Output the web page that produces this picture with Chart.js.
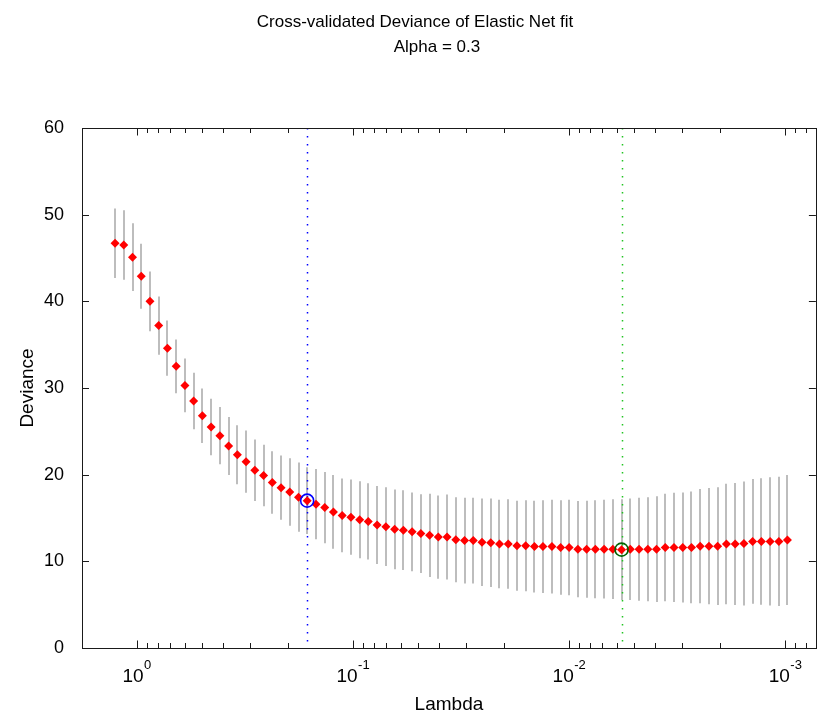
<!DOCTYPE html>
<html>
<head>
<meta charset="utf-8">
<title>Cross-validated Deviance of Elastic Net fit</title>
<script src="https://cdn.jsdelivr.net/npm/chart.js@4.4.1/dist/chart.umd.min.js"></script>
<style>
  html, body { margin: 0; padding: 0; background: #fff; }
</style>
</head>
<body>
<canvas id="cvPlot" width="824" height="720"></canvas>
<script>
// lambda values (x)
const lambdas = [
  1.2589, 1.1471, 1.0452, 0.95233, 0.86771, 0.79057, 0.72030, 0.65628, 0.59795, 0.54496,
  0.49637, 0.45225, 0.41205, 0.37543, 0.34206, 0.31165, 0.28395, 0.25871, 0.23572, 0.21477,
  0.19568, 0.17828, 0.16259, 0.14800, 0.13484, 0.12286, 0.11194, 0.10199, 0.092924, 0.084786,
  0.077138, 0.070281, 0.064034, 0.058342, 0.053156, 0.048431, 0.044126, 0.040204, 0.036630, 0.033374,
  0.030407, 0.027704, 0.025242, 0.022998, 0.020954, 0.019091, 0.017394, 0.015848, 0.014439, 0.013188,
  0.011986, 0.010921, 0.0099768, 0.0090900, 0.0082820, 0.0075458, 0.0068750, 0.0062639, 0.0057072, 0.0051998,
  0.0047376, 0.0043165, 0.0039328, 0.0035832, 0.0032647, 0.0029745, 0.0027101, 0.0024692, 0.0022497, 0.0020517,
  0.0018675, 0.0017015, 0.0015503, 0.0014125, 0.0012869, 0.0011725, 0.0010683, 0.00097474
];

// mean cross-validated deviance
const deviance = [
  46.7, 46.5, 45.1, 42.9, 40.0, 37.2, 34.6, 32.5, 30.3, 28.5,
  26.8, 25.5, 24.5, 23.3, 22.3, 21.5, 20.5, 19.9, 19.1, 18.5,
  18.0, 17.4, 17.0, 16.6, 16.2, 15.7, 15.3, 15.1, 14.8, 14.6,
  14.2, 14.0, 13.7, 13.6, 13.4, 13.2, 13.0, 12.8, 12.8, 12.5,
  12.4, 12.4, 12.2, 12.15, 12.0, 12.0, 11.8, 11.8, 11.7, 11.7,
  11.7, 11.6, 11.6, 11.4, 11.4, 11.4, 11.4, 11.4, 11.35, 11.4,
  11.4, 11.4, 11.4, 11.6, 11.6, 11.6, 11.6, 11.75, 11.75, 11.75,
  12.0, 12.0, 12.05, 12.3, 12.3, 12.3, 12.3, 12.45
];

// standard error (half length of the gray bars)
const devianceSE = [
  4.0, 4.0, 3.9, 3.75, 3.45, 3.35, 3.2, 3.1, 3.1, 3.25,
  3.15, 3.25, 3.3, 3.35, 3.4, 3.6, 3.55, 3.55, 3.6, 3.7,
  3.9, 4.0, 3.85, 4.05, 4.1, 4.25, 4.25, 4.35, 4.45, 4.4,
  4.5, 4.55, 4.6, 4.6, 4.55, 4.55, 4.8, 4.8, 4.9, 4.9,
  4.95, 4.95, 5.05, 5.1, 5.1, 5.15, 5.2, 5.25, 5.3, 5.35,
  5.4, 5.45, 5.5, 5.55, 5.6, 5.65, 5.7, 5.75, 5.8, 5.85,
  5.95, 6.0, 6.1, 6.2, 6.3, 6.35, 6.45, 6.6, 6.7, 6.8,
  6.95, 7.05, 7.15, 7.2, 7.3, 7.4, 7.45, 7.5
];

const idx1SE = 22;     // blue: lambda within 1 SE of min
const idxMinDev = 58;  // green: min deviance

const xRange = [0.00072, 1.79];
const xMajorTicks = [1, 0.1, 0.01, 0.001];
const xMajorExp = ["0", "-1", "-2", "-3"];
const xMinorTicks = [
  0.9, 0.8, 0.7, 0.6, 0.5, 0.4, 0.3, 0.2,
  0.09, 0.08, 0.07, 0.06, 0.05, 0.04, 0.03, 0.02,
  0.009, 0.008, 0.007, 0.006, 0.005, 0.004, 0.003, 0.002,
  0.0009, 0.0008
];
const yTicks = [0, 10, 20, 30, 40, 50, 60];

const titleLines = ["Cross-validated Deviance of Elastic Net fit", "Alpha = 0.3"];
const FONT = "'Liberation Sans', Arial, Helvetica, sans-serif";

// gray error bars + dotted lambda lines, under the points
const underLayer = {
  id: "underLayer",
  beforeDatasetsDraw(chart) {
    const { ctx, chartArea: a, scales: { x, y } } = chart;
    ctx.save();
    ctx.beginPath();
    ctx.rect(a.left, a.top, a.right - a.left, a.bottom - a.top);
    ctx.clip();

    ctx.strokeStyle = "#bdbdbd";
    ctx.lineWidth = 2;
    lambdas.forEach((l, i) => {
      const px = Math.round(x.getPixelForValue(l));
      ctx.beginPath();
      ctx.moveTo(px, y.getPixelForValue(deviance[i] + devianceSE[i]));
      ctx.lineTo(px, y.getPixelForValue(deviance[i] - devianceSE[i]));
      ctx.stroke();
    });

    ctx.lineWidth = 1.5;
    ctx.setLineDash([1.5, 6.5]);
    [[lambdas[idx1SE], "#0000ff"], [lambdas[idxMinDev], "#22c422"]].forEach(([l, c]) => {
      const px = Math.round(x.getPixelForValue(l)) + 0.5;
      ctx.strokeStyle = c;
      ctx.beginPath();
      ctx.moveTo(px, a.top);
      ctx.lineTo(px, a.bottom);
      ctx.stroke();
    });
    ctx.restore();
  }
};

// MATLAB style box, inward ticks, 10^k labels and the two line title
const matlabFrame = {
  id: "matlabFrame",
  afterDraw(chart) {
    const { ctx, chartArea: a, scales: { x, y } } = chart;
    ctx.save();
    ctx.strokeStyle = "#1a1a1a";
    ctx.lineWidth = 1;
    ctx.strokeRect(Math.round(a.left) + 0.5, Math.round(a.top) + 0.5,
                   Math.round(a.right - a.left), Math.round(a.bottom - a.top));

    const tick = (px, len, horiz) => {
      ctx.beginPath();
      if (horiz) {
        const py = Math.round(px) + 0.5;
        ctx.moveTo(a.left, py); ctx.lineTo(a.left + len, py);
        ctx.moveTo(a.right, py); ctx.lineTo(a.right - len, py);
      } else {
        const qx = Math.round(px) + 0.5;
        ctx.moveTo(qx, a.bottom); ctx.lineTo(qx, a.bottom - len);
        ctx.moveTo(qx, a.top); ctx.lineTo(qx, a.top + len);
      }
      ctx.stroke();
    };
    yTicks.forEach(v => tick(y.getPixelForValue(v), 7, true));
    xMajorTicks.forEach(v => tick(x.getPixelForValue(v), 7.5, false));
    xMinorTicks.forEach(v => tick(x.getPixelForValue(v), 5, false));

    // x tick labels: 10 with raised exponent
    ctx.fillStyle = "#000";
    ctx.textBaseline = "alphabetic";
    ctx.textAlign = "left";
    xMajorTicks.forEach((v, i) => {
      const px = x.getPixelForValue(v);
      ctx.font = "19px " + FONT;
      const wBase = ctx.measureText("10").width;
      ctx.font = "13px " + FONT;
      const wExp = ctx.measureText(xMajorExp[i]).width;
      const x0 = px - (wBase + wExp) / 2;
      ctx.font = "19px " + FONT;
      ctx.fillText("10", x0, a.bottom + 34);
      ctx.font = "13px " + FONT;
      ctx.fillText(xMajorExp[i], x0 + wBase + 0.5, a.bottom + 21);
    });

    // title
    ctx.font = "17px " + FONT;
    ctx.textAlign = "center";
    ctx.fillText(titleLines[0], 415, 27);
    ctx.fillText(titleLines[1], 437, 52);
    ctx.restore();
  }
};

new Chart(document.getElementById("cvPlot"), {
  type: "scatter",
  data: {
    datasets: [
      {
        label: "1SE",
        data: [{ x: lambdas[idx1SE], y: deviance[idx1SE] }],
        pointStyle: "circle",
        pointRadius: 6.5,
        borderColor: "#0000ff",
        backgroundColor: "rgba(0,0,0,0)",
        borderWidth: 1.6
      },
      {
        label: "MinDev",
        data: [{ x: lambdas[idxMinDev], y: deviance[idxMinDev] }],
        pointStyle: "circle",
        pointRadius: 6.5,
        borderColor: "#006400",
        backgroundColor: "rgba(0,0,0,0)",
        borderWidth: 1.6
      },
      {
        label: "Deviance",
        data: lambdas.map((l, i) => ({ x: l, y: deviance[i] })),
        pointStyle: "rectRot",
        pointRadius: 4.5,
        backgroundColor: "#ff0000",
        borderColor: "#ff0000",
        borderWidth: 0
      }
    ]
  },
  options: {
    responsive: false,
    animation: false,
    layout: { padding: { top: 128, right: 5, left: 0, bottom: 0 } },
    plugins: {
      legend: { display: false },
      tooltip: { enabled: false }
    },
    scales: {
      x: {
        type: "logarithmic",
        reverse: true,
        min: xRange[0],
        max: xRange[1],
        grid: { display: false },
        border: { display: false },
        ticks: { display: false },
        title: {
          display: true,
          text: "Lambda",
          color: "#000",
          font: { family: FONT, size: 19 },
          padding: { top: 0, bottom: 4 }
        },
        afterFit(scale) { scale.height = 72; }
      },
      y: {
        type: "linear",
        min: 0,
        max: 60,
        grid: { display: false },
        border: { display: false },
        afterBuildTicks(scale) { scale.ticks = yTicks.map(v => ({ value: v })); },
        ticks: {
          color: "#000",
          padding: 10,
          font: { family: FONT, size: 18 }
        },
        title: {
          display: true,
          text: "Deviance",
          color: "#000",
          font: { family: FONT, size: 19 },
          padding: { top: 16, bottom: 0 }
        },
        afterFit(scale) { scale.width = 82; }
      }
    }
  },
  plugins: [underLayer, matlabFrame]
});
</script>
</body>
</html>
